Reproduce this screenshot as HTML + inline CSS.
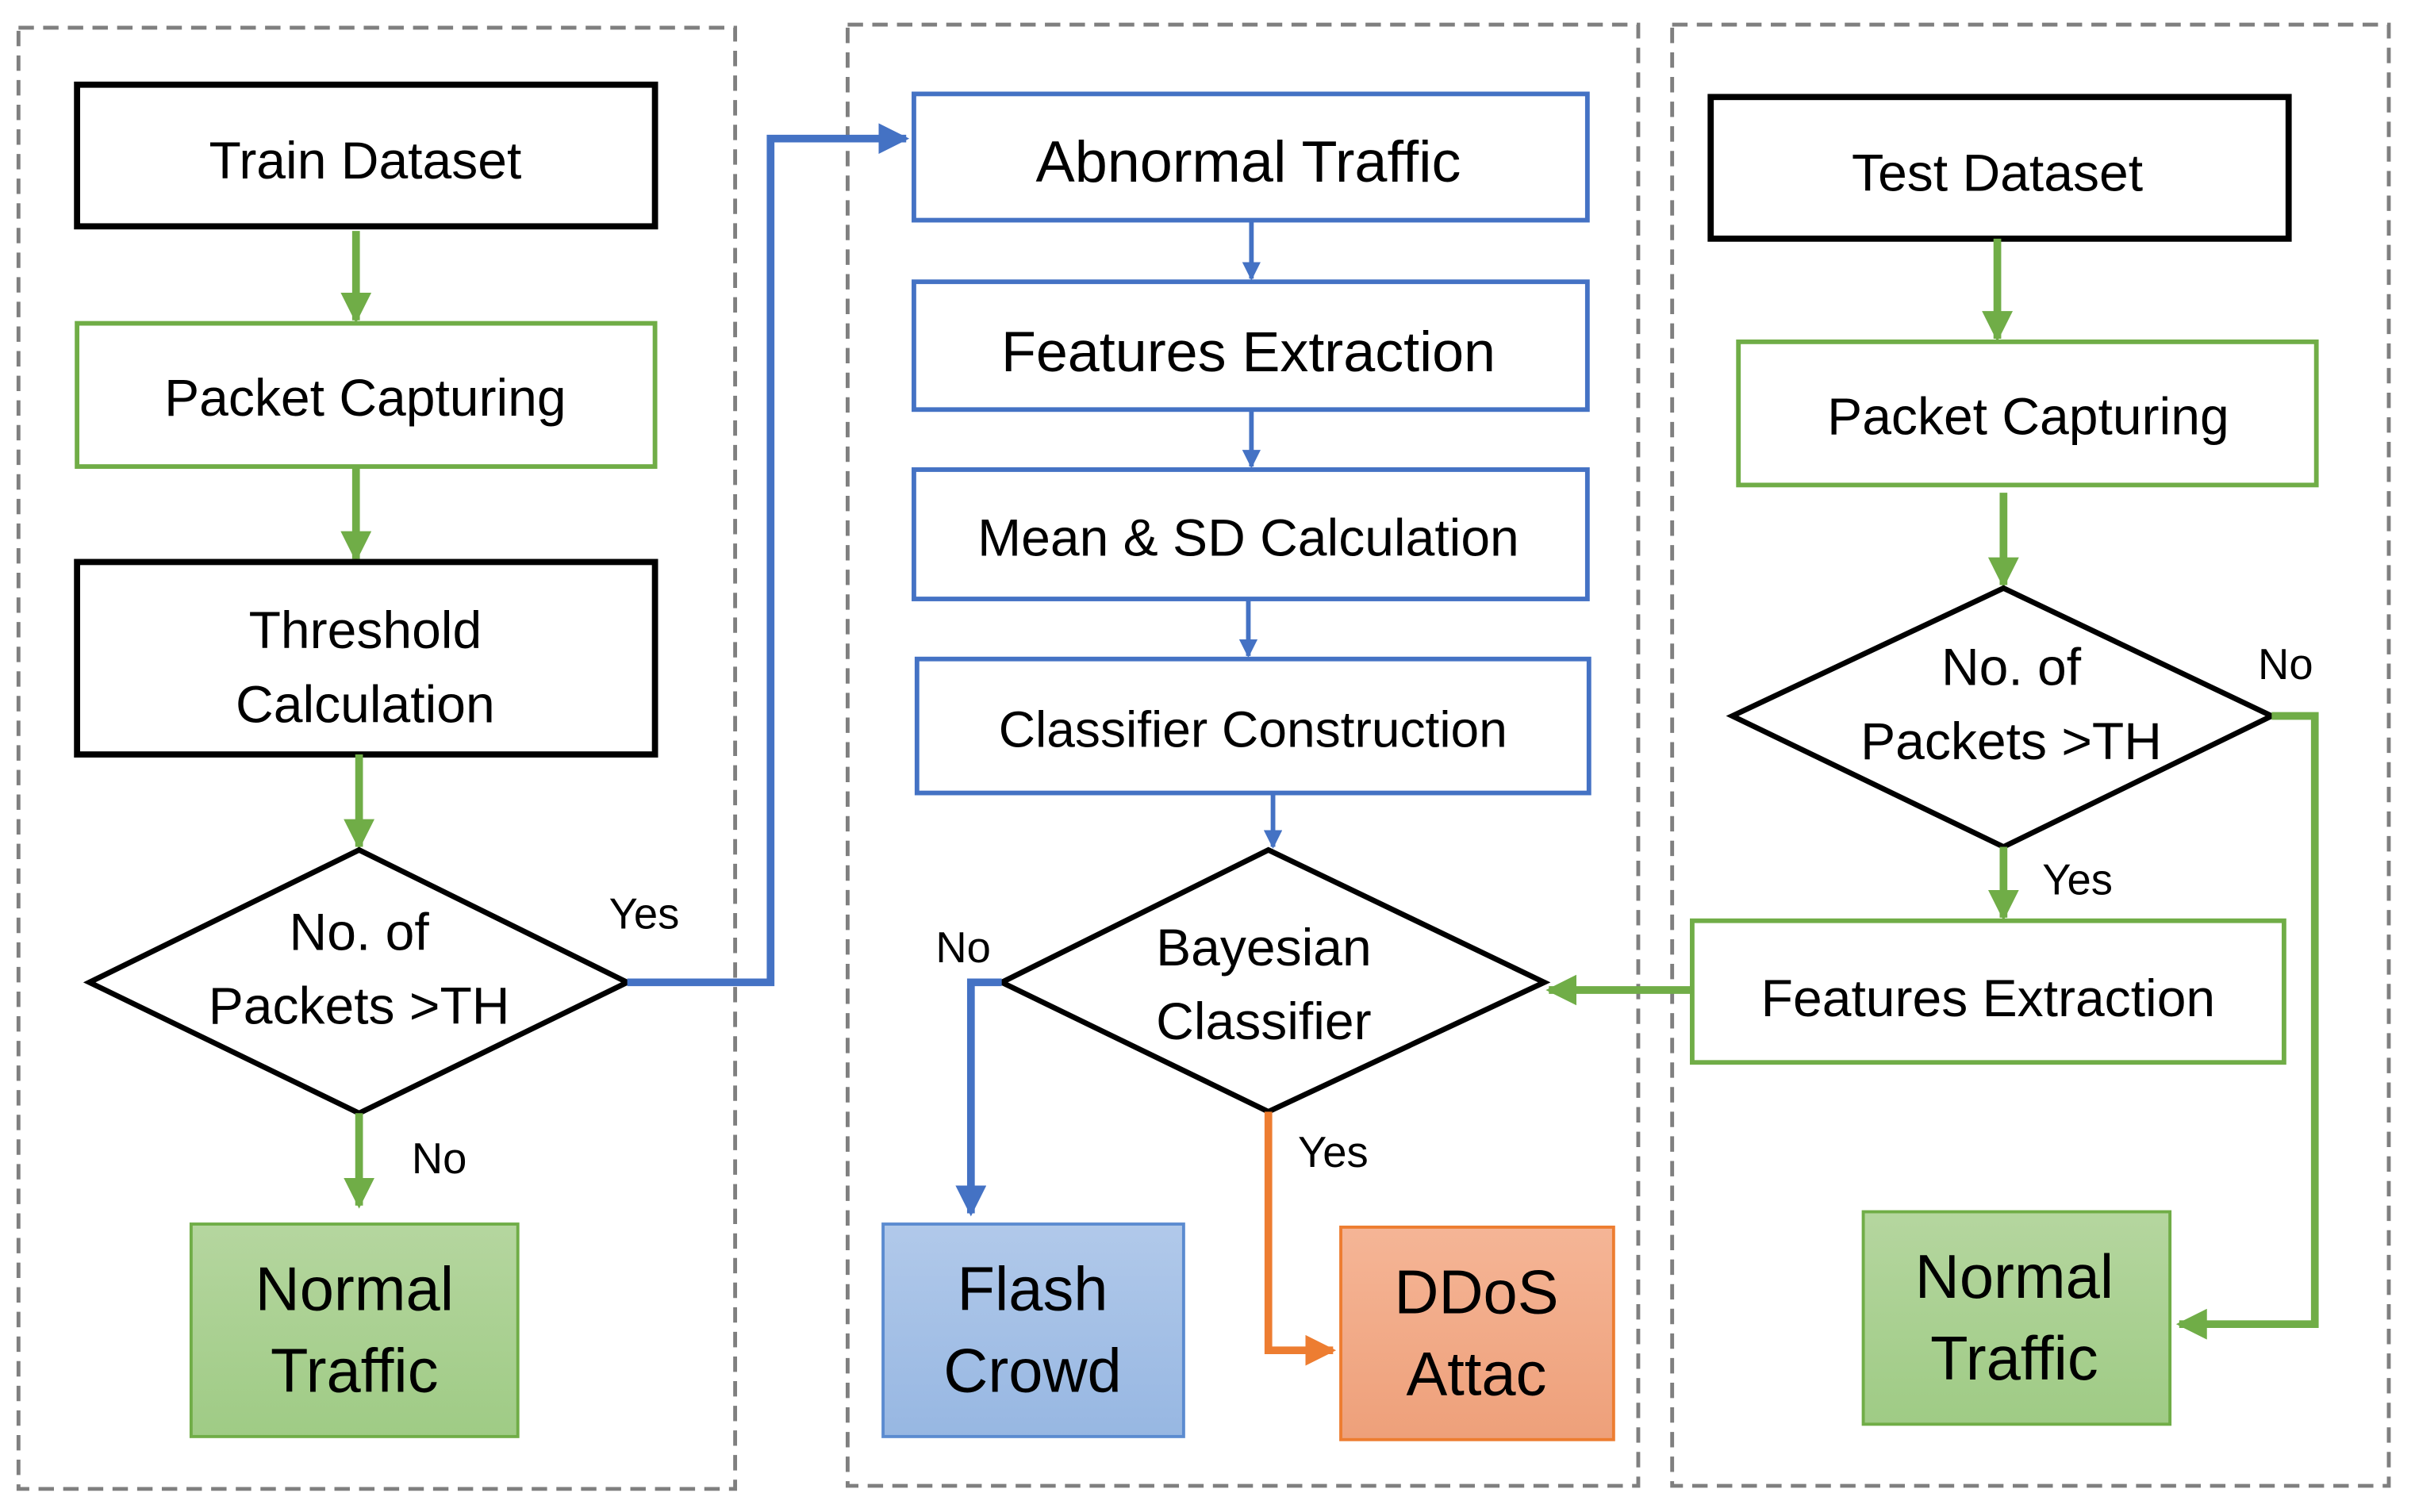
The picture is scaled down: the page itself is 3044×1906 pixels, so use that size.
<!DOCTYPE html>
<html><head><meta charset="utf-8"><style>
html,body{margin:0;padding:0;background:#fff;}
svg{display:block;}
text{font-family:"Liberation Sans",sans-serif;text-anchor:middle;fill:#000;}
</style></head><body>
<svg width="3044" height="1906" viewBox="0 0 1567 982" preserveAspectRatio="none" xmlns="http://www.w3.org/2000/svg">
<defs>
<marker id="ag" viewBox="0 0 10 10" refX="9" refY="5" markerWidth="4" markerHeight="4" orient="auto" markerUnits="strokeWidth"><path d="M0,0 L10,5 L0,10 z" fill="#70ad47"/></marker>
<marker id="ab" viewBox="0 0 10 10" refX="9" refY="5" markerWidth="4" markerHeight="4" orient="auto" markerUnits="strokeWidth"><path d="M0,0 L10,5 L0,10 z" fill="#4472c4"/></marker>
<marker id="ao" viewBox="0 0 10 10" refX="9" refY="5" markerWidth="4" markerHeight="4" orient="auto" markerUnits="strokeWidth"><path d="M0,0 L10,5 L0,10 z" fill="#ed7d31"/></marker>
<linearGradient id="gg" x1="0" y1="0" x2="0" y2="1"><stop offset="0" stop-color="#b5d69f"/><stop offset="1" stop-color="#9fcb85"/></linearGradient>
<linearGradient id="gb" x1="0" y1="0" x2="0" y2="1"><stop offset="0" stop-color="#b1c9ea"/><stop offset="1" stop-color="#97b7e2"/></linearGradient>
<linearGradient id="go" x1="0" y1="0" x2="0" y2="1"><stop offset="0" stop-color="#f5b596"/><stop offset="1" stop-color="#eea07a"/></linearGradient>
</defs>
<g fill="none" stroke="#7f7f7f" stroke-width="2.5" stroke-dasharray="10,6">
<rect x="12" y="18" width="465" height="949"/>
<rect x="550" y="16" width="513" height="949"/>
<rect x="1085" y="16" width="465" height="949"/>
</g>
<rect x="50" y="55" width="375" height="92" fill="#fff" stroke="#000" stroke-width="4"/>
<text x="237" y="116" font-size="34">Train Dataset</text>
<line x1="231" y1="150" x2="231" y2="208" stroke="#70ad47" stroke-width="5" marker-end="url(#ag)"/>
<rect x="50" y="210" width="375" height="93" fill="#fff" stroke="#70ad47" stroke-width="3"/>
<text x="237" y="270" font-size="34">Packet Capturing</text>
<line x1="231" y1="303" x2="231" y2="363" stroke="#70ad47" stroke-width="5" marker-end="url(#ag)"/>
<rect x="50" y="365" width="375" height="125" fill="#fff" stroke="#000" stroke-width="4"/>
<text x="237" y="421" font-size="34">Threshold</text>
<text x="237" y="469" font-size="34">Calculation</text>
<line x1="233" y1="490" x2="233" y2="550" stroke="#70ad47" stroke-width="5" marker-end="url(#ag)"/>
<polygon points="58,638 233,552 407,638 233,723" fill="#fff" stroke="#000" stroke-width="3.5"/>
<text x="233" y="617" font-size="34">No. of</text>
<text x="233" y="665" font-size="34">Packets &gt;TH</text>
<text x="418" y="603" font-size="28">Yes</text>
<polyline points="407,638 500,638 500,90 588,90" fill="none" stroke="#4472c4" stroke-width="5" marker-end="url(#ab)"/>
<line x1="233" y1="723" x2="233" y2="783" stroke="#70ad47" stroke-width="5" marker-end="url(#ag)"/>
<text x="285" y="762" font-size="28">No</text>
<rect x="124" y="795" width="212" height="138" fill="url(#gg)" stroke="#70ad47" stroke-width="2"/>
<text x="230" y="851" font-size="40">Normal</text>
<text x="230" y="904" font-size="40">Traffic</text>
<rect x="593" y="61" width="437" height="82" fill="#fff" stroke="#4472c4" stroke-width="3"/>
<text x="810" y="118" font-size="38">Abnormal Traffic</text>
<line x1="812" y1="143" x2="812" y2="181" stroke="#4472c4" stroke-width="3" marker-end="url(#ab)"/>
<rect x="593" y="183" width="437" height="83" fill="#fff" stroke="#4472c4" stroke-width="3"/>
<text x="810" y="241" font-size="37">Features Extraction</text>
<line x1="812" y1="266" x2="812" y2="303" stroke="#4472c4" stroke-width="3" marker-end="url(#ab)"/>
<rect x="593" y="305" width="437" height="84" fill="#fff" stroke="#4472c4" stroke-width="3"/>
<text x="810" y="361" font-size="34">Mean &amp; SD Calculation</text>
<line x1="810" y1="389" x2="810" y2="426" stroke="#4472c4" stroke-width="3" marker-end="url(#ab)"/>
<rect x="595" y="428" width="436" height="87" fill="#fff" stroke="#4472c4" stroke-width="3"/>
<text x="813" y="485" font-size="33">Classifier Construction</text>
<line x1="826" y1="515" x2="826" y2="550" stroke="#4472c4" stroke-width="3" marker-end="url(#ab)"/>
<polygon points="650,638 823,552 1002,638 823,722" fill="#fff" stroke="#000" stroke-width="3.5"/>
<text x="820" y="627" font-size="34">Bayesian</text>
<text x="820" y="675" font-size="34">Classifier</text>
<text x="625" y="625" font-size="28">No</text>
<polyline points="650,638 630,638 630,788" fill="none" stroke="#4472c4" stroke-width="5" marker-end="url(#ab)"/>
<rect x="573" y="795" width="195" height="138" fill="url(#gb)" stroke="#5b8bd0" stroke-width="2"/>
<text x="670" y="851" font-size="40">Flash</text>
<text x="670" y="904" font-size="40">Crowd</text>
<polyline points="823,722 823,877 865,877" fill="none" stroke="#ed7d31" stroke-width="5" marker-end="url(#ao)"/>
<text x="865" y="758" font-size="28">Yes</text>
<rect x="870" y="797" width="177" height="138" fill="url(#go)" stroke="#ed7d31" stroke-width="2"/>
<text x="958" y="853" font-size="40">DDoS</text>
<text x="958" y="906" font-size="40">Attac</text>
<rect x="1110" y="63" width="375" height="92" fill="#fff" stroke="#000" stroke-width="4"/>
<text x="1296" y="124" font-size="34">Test Dataset</text>
<line x1="1296" y1="155" x2="1296" y2="220" stroke="#70ad47" stroke-width="5" marker-end="url(#ag)"/>
<rect x="1128" y="222" width="375" height="93" fill="#fff" stroke="#70ad47" stroke-width="3"/>
<text x="1316" y="282" font-size="34">Packet Capturing</text>
<line x1="1300" y1="320" x2="1300" y2="380" stroke="#70ad47" stroke-width="5" marker-end="url(#ag)"/>
<polygon points="1124,465 1300,382 1474,465 1300,550" fill="#fff" stroke="#000" stroke-width="3.5"/>
<text x="1305" y="445" font-size="34">No. of</text>
<text x="1305" y="493" font-size="34">Packets &gt;TH</text>
<text x="1483" y="441" font-size="28">No</text>
<polyline points="1474,465 1502,465 1502,860 1414,860" fill="none" stroke="#70ad47" stroke-width="5" marker-end="url(#ag)"/>
<text x="1348" y="581" font-size="28">Yes</text>
<line x1="1300" y1="550" x2="1300" y2="596" stroke="#70ad47" stroke-width="5" marker-end="url(#ag)"/>
<rect x="1098" y="598" width="384" height="92" fill="#fff" stroke="#70ad47" stroke-width="3"/>
<text x="1290" y="660" font-size="34">Features Extraction</text>
<line x1="1098" y1="643" x2="1005" y2="643" stroke="#70ad47" stroke-width="5" marker-end="url(#ag)"/>
<rect x="1209" y="787" width="199" height="138" fill="url(#gg)" stroke="#70ad47" stroke-width="2"/>
<text x="1307" y="843" font-size="40">Normal</text>
<text x="1307" y="896" font-size="40">Traffic</text>
</svg>
</body></html>
